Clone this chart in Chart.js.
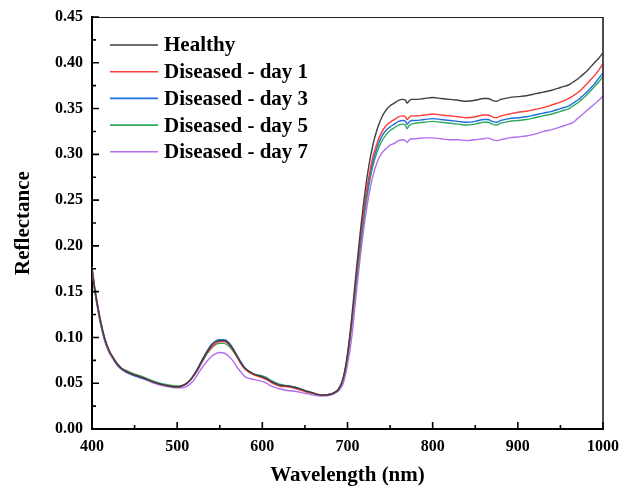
<!DOCTYPE html>
<html><head><meta charset="utf-8">
<script src="https://cdn.jsdelivr.net/npm/chart.js@4/dist/chart.umd.min.js"></script>
<style>html,body{margin:0;padding:0;background:#fff}canvas{display:block}</style>
</head><body>
<canvas id="c" width="621" height="491"></canvas>
<script>
const wavelengths = [400,403,406,410,415,420,425,430,435,440,450,460,470,480,490,500,505,510,515,520,525,530,535,540,545,550,555,560,565,570,575,580,590,600,605,610,620,630,640,650,660,670,680,685,690,695,700,705,710,715,720,725,730,735,740,745,750,755,760,765,768,770,772,775,780,790,800,810,820,830,840,850,860,865,870,875,880,890,900,910,920,930,940,950,960,965,970,975,980,985,990,995,1000];

const healthy = [0.176,0.155,0.138,0.118,0.099,0.086,0.078,0.071,0.066,0.063,
0.059,0.056,0.052,0.049,0.047,0.046,
0.047,0.049,0.053,0.059,0.067,0.076,0.084,0.091,0.095,0.0965,0.0965,0.094,0.088,0.080,0.072,0.066,
0.060,0.057,0.055,0.052,
0.048,0.047,0.045,0.042,0.039,0.037,0.038,
0.040,0.044,0.056,
0.082,0.122,0.170,0.215,0.255,0.287,0.311,0.328,0.340,0.348,0.353,0.356,0.359,0.360,
0.359,0.356,0.358,0.360,0.360,
0.361,0.362,0.361,0.360,0.359,0.358,0.359,0.361,
0.361,0.359,0.358,0.360,
0.362,0.363,0.364,0.366,0.368,0.370,0.373,0.376,
0.379,0.382,0.386,0.390,0.395,0.400,0.405,0.411];

const day1 = [0.175,0.154,0.137,0.117,0.098,0.085,0.077,0.070,0.066,0.063,
0.059,0.056,0.052,0.049,0.047,0.046,
0.047,0.049,0.053,0.059,0.066,0.075,0.083,0.089,0.093,0.0955,0.0955,0.093,0.087,0.079,0.071,0.065,
0.059,0.056,0.054,0.051,
0.047,0.046,0.044,0.041,0.039,0.037,0.038,
0.040,0.044,0.055,
0.080,0.118,0.165,0.207,0.245,0.275,0.298,0.313,0.324,0.331,0.335,0.338,0.341,0.342,
0.341,0.338,0.340,0.342,0.342,
0.343,0.344,0.343,0.342,0.341,0.340,0.341,0.343,
0.343,0.341,0.340,0.342,
0.344,0.346,0.347,0.349,0.351,0.354,0.357,0.361,
0.364,0.367,0.371,0.376,0.381,0.386,0.392,0.399];

const day3 = [0.174,0.152,0.135,0.115,0.096,0.084,0.076,0.069,0.065,0.062,
0.058,0.055,0.052,0.049,0.047,0.046,
0.047,0.049,0.053,0.060,0.068,0.077,0.085,0.092,0.096,0.0975,0.0975,0.095,0.089,0.081,0.073,0.066,
0.060,0.057,0.055,0.052,
0.048,0.047,0.045,0.042,0.039,0.037,0.038,
0.040,0.044,0.055,
0.080,0.117,0.162,0.203,0.240,0.270,0.293,0.308,0.319,0.326,0.330,0.333,0.336,0.337,
0.336,0.333,0.335,0.337,0.337,
0.338,0.339,0.338,0.337,0.336,0.335,0.336,0.338,
0.338,0.336,0.335,0.337,
0.339,0.340,0.341,0.343,0.345,0.347,0.350,0.353,
0.356,0.359,0.363,0.367,0.372,0.377,0.383,0.389];

const day5 = [0.175,0.153,0.136,0.116,0.097,0.085,0.077,0.070,0.066,0.064,
0.060,0.057,0.053,0.050,0.048,0.047,
0.047,0.049,0.053,0.059,0.066,0.074,0.082,0.088,0.092,0.0936,0.0935,0.091,0.086,0.079,0.072,0.066,
0.060,0.058,0.056,0.053,
0.049,0.047,0.045,0.042,0.039,0.037,0.038,
0.040,0.044,0.055,
0.078,0.114,0.158,0.198,0.235,0.265,0.288,0.303,0.314,0.321,0.326,0.329,0.332,0.333,
0.332,0.328,0.331,0.333,0.334,
0.335,0.336,0.335,0.334,0.333,0.332,0.333,0.335,
0.335,0.333,0.332,0.334,
0.336,0.337,0.338,0.340,0.342,0.344,0.347,0.350,
0.353,0.356,0.360,0.364,0.369,0.374,0.379,0.3855];

const day7 = [0.177,0.156,0.139,0.119,0.099,0.086,0.077,0.070,0.065,0.062,
0.058,0.055,0.051,0.048,0.046,0.045,
0.045,0.046,0.049,0.054,0.061,0.068,0.074,0.079,0.082,0.0835,0.083,0.080,0.075,0.068,0.062,0.057,
0.054,0.052,0.050,0.047,
0.044,0.042,0.041,0.039,0.037,0.036,0.037,
0.039,0.042,0.050,
0.070,0.100,0.145,0.188,0.225,0.255,0.277,0.292,0.301,0.306,0.310,0.312,0.315,0.316,
0.315,0.313,0.315,0.317,0.317,
0.318,0.318,0.317,0.316,0.316,0.315,0.316,0.317,
0.318,0.316,0.315,0.316,
0.318,0.319,0.320,0.322,0.325,0.327,0.330,0.333,
0.335,0.339,0.343,0.347,0.351,0.355,0.359,0.3637];

const seriesLabels = ['Healthy','Diseased - day 1','Diseased - day 3','Diseased - day 5','Diseased - day 7'];
const seriesValues = [healthy, day1, day3, day5, day7];
const seriesColors = ['#404040','#ff3b3b','#1f6fdc','#2eaa62','#b46ef0'];
const xTickValues = [400,500,600,700,800,900,1000];
const yTickValues = [0.00,0.05,0.10,0.15,0.20,0.25,0.30,0.35,0.40,0.45];

const FONT = "'Liberation Serif','Times New Roman',serif";

const datasets = seriesValues.map((vals, i) => ({
  label: seriesLabels[i],
  data: wavelengths.map((w, j) => ({x: w, y: vals[j]})),
  borderColor: seriesColors[i],
  backgroundColor: seriesColors[i],
  borderWidth: 1.4,
  pointRadius: 0,
  cubicInterpolationMode: 'monotone',
  fill: false
}));

const framePlugin = {
  id: 'frame',
  afterDraw(chart) {
    const ctx = chart.ctx;
    const ca = chart.chartArea;
    const xs = chart.scales.x, ys = chart.scales.y;
    ctx.save();
    ctx.strokeStyle = '#222';
    ctx.lineWidth = 1.2;
    ctx.beginPath();
    ctx.moveTo(ca.left, ca.top + 0.5);
    ctx.lineTo(ca.right, ca.top + 0.5);
    ctx.stroke();
    ctx.lineWidth = 1.6;
    ctx.beginPath();
    ctx.moveTo(ca.right, ca.top);
    ctx.lineTo(ca.right, ca.bottom);
    ctx.stroke();
    ctx.strokeStyle = '#000';
    ctx.lineWidth = 1.6;
    ctx.beginPath();
    for (let v = 400; v <= 1000; v += 50) {
      const px = xs.getPixelForValue(v);
      const len = (v % 100 === 0) ? 7 : 4;
      ctx.moveTo(px, ca.bottom);
      ctx.lineTo(px, ca.bottom - len);
    }
    for (let k = 0; k <= 18; k++) {
      const v = k * 0.025;
      const py = ys.getPixelForValue(v);
      const len = (k % 2 === 0) ? 7 : 4;
      ctx.moveTo(ca.left, py);
      ctx.lineTo(ca.left + len, py);
    }
    ctx.stroke();
    ctx.font = "bold 21px " + FONT;
    ctx.textBaseline = 'middle';
    ctx.textAlign = 'left';
    chart.data.datasets.forEach((ds, i) => {
      const y = 45 + i * 26.7;
      ctx.strokeStyle = ds.borderColor;
      ctx.lineWidth = 1.6;
      ctx.beginPath();
      ctx.moveTo(110, y);
      ctx.lineTo(158, y);
      ctx.stroke();
      ctx.fillStyle = '#000';
      ctx.fillText(ds.label, 164, y + 1);
    });
    ctx.restore();
  }
};

new Chart(document.getElementById('c'), {
  type: 'line',
  data: { datasets },
  options: {
    responsive: false,
    animation: false,
    devicePixelRatio: 1,
    layout: { padding: { left: 0, top: 17, right: 18, bottom: 0 } },
    plugins: { legend: { display: false }, tooltip: { enabled: false } },
    scales: {
      x: {
        type: 'linear', min: 400, max: 1000,
        afterBuildTicks: s => { s.ticks = xTickValues.map(v => ({value: v})); },
        afterFit: s => { s.height = 62; s.paddingLeft = 0; s.paddingRight = 0; },
        ticks: { color: '#000', font: { family: FONT, size: 16, weight: 'bold' }, padding: 8, maxRotation: 0, callback: v => String(v) },
        grid: { drawOnChartArea: false, drawTicks: false },
        border: { display: true, color: '#000', width: 2 },
        title: { display: true, text: 'Wavelength (nm)', color: '#000', font: { family: FONT, size: 21, weight: 'bold' }, padding: { top: 0, bottom: 3 } }
      },
      y: {
        type: 'linear', min: 0, max: 0.45,
        afterBuildTicks: s => { s.ticks = yTickValues.map(v => ({value: v})); },
        afterFit: s => { s.width = 92; s.paddingTop = 0; s.paddingBottom = 0; },
        ticks: { color: '#000', font: { family: FONT, size: 16, weight: 'bold' }, padding: 9, callback: v => Number(v).toFixed(2) },
        grid: { drawOnChartArea: false, drawTicks: false },
        border: { display: true, color: '#000', width: 2 },
        title: { display: true, text: 'Reflectance', color: '#000', font: { family: FONT, size: 21, weight: 'bold' }, padding: { top: 11, bottom: 0 } }
      }
    }
  },
  plugins: [framePlugin]
});
</script>
</body></html>
